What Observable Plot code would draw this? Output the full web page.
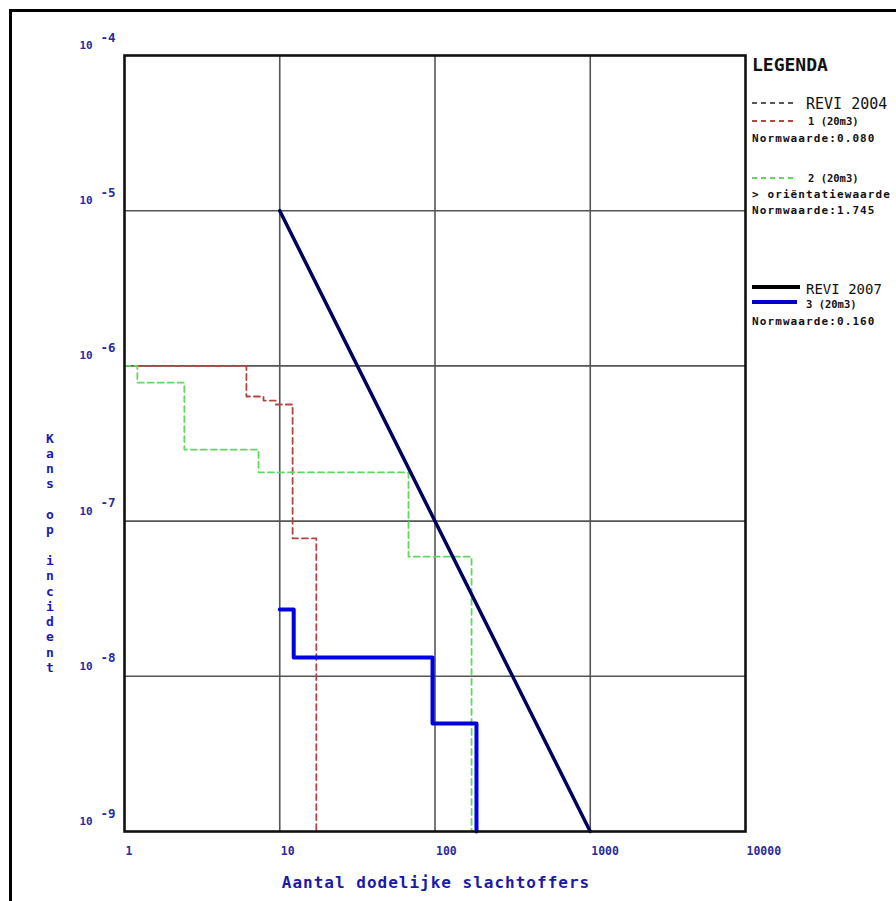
<!DOCTYPE html>
<html>
<head>
<meta charset="utf-8">
<script src="https://cdn.jsdelivr.net/npm/d3@7"></script>
<script src="https://cdn.jsdelivr.net/npm/@observablehq/plot@0.6"></script>
<style>
  html, body { margin: 0; padding: 0; background: #fff; }
  #wrap { position: relative; width: 896px; height: 901px; overflow: hidden; background: #fff; }
  #border { position: absolute; left: 9px; top: 9px; right: -10px; bottom: -10px;
            border-left: 3px solid #000; border-top: 3px solid #000; pointer-events: none; }
</style>
</head>
<body>
<div id="wrap"><div id="border"></div></div>
<script>
// ---- data ----
const xTicks = [1, 10, 100, 1000, 10000];
const xTickLabels = ["1", "10", "100", "1000", "10000"];
const yTicks = [1e-9, 1e-8, 1e-7, 1e-6, 1e-5, 1e-4];
const yTickExponents = ["-9", "-8", "-7", "-6", "-5", "-4"];

// REVI 2004 scenario 1 (red dashed) – step corners
const redX = [1, 6.1, 7.86, 9.4, 12.1, 17.2];
const redY = [1e-6, 6.35e-7, 5.98e-7, 5.64e-7, 7.73e-8, 1e-9];
// REVI 2004 scenario 2 (green dashed)
const greenX = [1, 1.21, 2.43, 7.3, 67.5, 172];
const greenY = [1e-6, 7.8e-7, 2.89e-7, 2.06e-7, 5.9e-8, 1e-9];
// REVI 2007 scenario 3 (blue solid)
const blueX = [10, 12.3, 96.4, 185];
const blueY = [2.69e-8, 1.32e-8, 4.96e-9, 1e-9];
// REVI 2007 orientation value line
const normX = [10, 1000];
const normY = [1e-5, 1e-9];

const xTitle = "Aantal dodelijke slachtoffers";
const yTitle = "Kans op incident";

const toPts = (xs, ys) => xs.map((x, i) => ({x, y: ys[i]}));
const red = toPts(redX, redY);
const green = toPts(greenX, greenY);
const blue = toPts(blueX, blueY);
const norm = toPts(normX, normY);

const tickFont = "DejaVu Sans Mono";
const tickColor = "#2a2aa0";

const chart = Plot.plot({
  width: 896,
  height: 901,
  marginLeft: 124,
  marginRight: 151,
  marginTop: 55,
  marginBottom: 70,
  style: {background: "transparent", overflow: "visible"},
  x: {type: "log", domain: [1, 10000], axis: null},
  y: {type: "log", domain: [1e-9, 1e-4], axis: null},
  marks: [
    Plot.ruleX(xTicks.slice(1, -1), {stroke: "#555", strokeWidth: 1.6}),
    Plot.ruleY(yTicks.slice(1, -1), {stroke: "#555", strokeWidth: 1.6}),
    Plot.line(red, {x: "x", y: "y", curve: "step-after", stroke: "#b4463f", strokeWidth: 1.8, strokeDasharray: "6,4"}),
    Plot.line(green, {x: "x", y: "y", curve: "step-after", stroke: "#5fd85f", strokeWidth: 1.8, strokeDasharray: "6,4"}),
    Plot.line(norm, {x: "x", y: "y", stroke: "#00005e", strokeWidth: 3.5}),
    Plot.line(blue, {x: "x", y: "y", curve: "step-after", stroke: "#0000e0", strokeWidth: 4}),
    Plot.frame({stroke: "#111", strokeWidth: 2.6}),
    Plot.text(xTicks, {x: d => d, frameAnchor: "bottom", dy: 23, dx: 1, textAnchor: "start",
      text: (d, i) => xTickLabels[i], fill: tickColor, fontSize: 11.5, fontWeight: "bold", fontFamily: tickFont}),
    Plot.text(yTicks, {y: d => d, frameAnchor: "left", dx: -45, dy: -10, textAnchor: "start",
      text: () => "10", fill: tickColor, fontSize: 11, fontWeight: "bold", fontFamily: tickFont}),
    Plot.text(yTicks, {y: d => d, frameAnchor: "left", dx: -24, dy: -18, textAnchor: "start",
      text: (d, i) => yTickExponents[i], fill: tickColor, fontSize: 12.5, fontWeight: "bold", fontFamily: tickFont})
  ]
});

document.getElementById("wrap").appendChild(chart);

// ---- titles and legend (outside the data area) ----
const svg = d3.select(chart);
const g = svg.append("g");

g.append("text")
  .attr("x", 436).attr("y", 882).attr("dy", "0.35em")
  .attr("text-anchor", "middle")
  .attr("font-family", tickFont).attr("font-weight", "bold").attr("font-size", 16)
  .attr("letter-spacing", "1px")
  .attr("fill", "#1a1aa8")
  .text(xTitle);

const vt = g.append("g");
yTitle.split("").forEach((ch, i) => {
  vt.append("text")
    .attr("x", 50).attr("y", 438 + i * 15.3).attr("dy", "0.35em")
    .attr("text-anchor", "middle")
    .attr("font-family", tickFont).attr("font-weight", "bold").attr("font-size", 13)
    .attr("fill", "#1a1ab0")
    .text(ch);
});

const leg = g.append("g").attr("font-family", tickFont).attr("fill", "#111").attr("text-anchor", "start");
const txt = (x, y, s, size, weight, ls) => {
  const t = leg.append("text").attr("x", x).attr("y", y).attr("dy", "0.35em")
    .attr("text-anchor", "start")
    .attr("font-size", size).attr("font-weight", weight).text(s);
  if (ls) t.attr("letter-spacing", ls);
  return t;
};
const seg = (x1, x2, y, color, w, dash) => {
  const l = leg.append("line").attr("x1", x1).attr("x2", x2).attr("y1", y).attr("y2", y)
    .attr("stroke", color).attr("stroke-width", w);
  if (dash) l.attr("stroke-dasharray", dash);
};

txt(752, 65, "LEGENDA", 18, "bold");
seg(752, 797, 103, "#222", 1.6, "5,4");
txt(806, 104, "REVI 2004", 15, "normal");
seg(752, 797, 121, "#b4463f", 1.8, "5,4");
txt(808, 121, "1 (20m3)", 10.5, "bold");
txt(752, 138, "Normwaarde:0.080", 11, "bold", "1.1px");
seg(752, 797, 178, "#5fd85f", 1.8, "5,4");
txt(808, 178, "2 (20m3)", 10.5, "bold");
txt(752, 194, "> oriëntatiewaarde", 11, "bold", "1.1px");
txt(752, 210, "Normwaarde:1.745", 11, "bold", "1.1px");
seg(752, 800, 287, "#000", 4);
txt(806, 289, "REVI 2007", 14, "normal");
seg(752, 797, 302, "#0000cc", 4);
txt(806, 304, "3 (20m3)", 10.5, "bold");
txt(752, 321, "Normwaarde:0.160", 11, "bold", "1.1px");
</script>
</body>
</html>
